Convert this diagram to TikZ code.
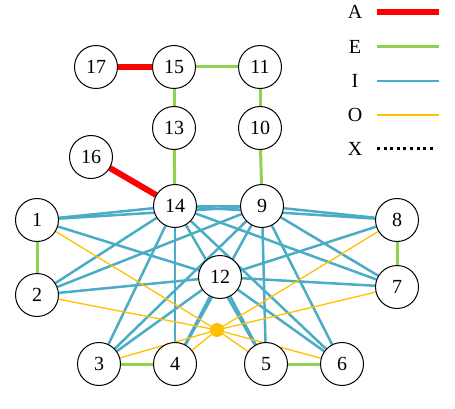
\documentclass[tikz,border=0pt]{standalone}
\usepackage{fontspec}
\setmainfont{Liberation Serif}
\usetikzlibrary{backgrounds}
\definecolor{relAred}{RGB}{255,0,0}
\definecolor{relEgreen}{RGB}{146,208,80}
\definecolor{relIblue}{RGB}{75,172,198}
\definecolor{relOorange}{RGB}{255,192,0}

\begin{document}
\begin{tikzpicture}[
    x=1pt, y=-1pt,
    dept/.style={circle, draw, fill=white, line width=1pt, minimum size=43pt, inner sep=0pt, font=\fontsize{20}{20}\selectfont},
    hubdot/.style={circle, fill=relOorange, minimum size=14pt, inner sep=0pt},
    relA/.style={relAred, line width=6pt},
    relE/.style={relEgreen, line width=3pt},
    relI/.style={relIblue, line width=2.5pt},
    relO/.style={relOorange, line width=1.3pt},
    relX/.style={black, line width=3pt, dash pattern=on 3pt off 3.6pt},
    key/.style={font=\fontsize{20}{20}\selectfont, inner sep=0pt},
]
\useasboundingbox (0,0) rectangle (455,409);

% === DEPARTAMENTOS ===
\foreach \n/\x/\y in {17/96/67, 15/174/67, 11/260/67, 13/174/128, 10/260/128,
    16/91/157, 14/175/206, 9/262/206, 1/37/220, 8/397/220, 12/220/277,
    2/37/295, 7/397/287, 3/99/364, 4/175/364, 5/266/364, 6/342/364} {
    \node[dept] (n\n) at (\x,\y) {\n};
}
\node[hubdot] (hub) at (217,330) {};

% === RELACIONES ===
\begin{pgfonlayer}{background}
    % A
    \foreach \a/\b in {17/15, 16/14} {
        \draw[relA] (n\a) -- (n\b);
    }
    % E
    \foreach \a/\b in {15/11, 15/13, 13/14, 11/10, 10/9, 1/2, 8/7, 3/4, 5/6} {
        \draw[relE] (n\a) -- (n\b);
    }
    % I
    \foreach \a/\b in {14/1, 14/2, 14/3, 14/4, 14/5, 14/6, 14/7, 14/8, 14/9,
        9/1, 9/2, 9/3, 9/4, 9/5, 9/6, 9/7, 9/8,
        12/1, 12/2, 12/3, 12/4, 12/5, 12/6, 12/7, 12/8} {
        \draw[relI] (n\a) -- (n\b);
    }
    % O
    \foreach \b in {1,...,8} {
        \draw[relO] (hub.center) -- (n\b);
    }
\end{pgfonlayer}

% === LEYENDA ===
\foreach \r/\y/\e in {A/12/439, E/47/439, I/81/439, O/115/439, X/149/436} {
    \node[key] (key\r) at (355,\y) {\r};
    \coordinate (keyfrom\r) at (377,\y);
    \coordinate (keyto\r) at (\e,\y);
    \draw[rel\r] (keyfrom\r) -- (keyto\r);
}

\end{tikzpicture}
\end{document}
